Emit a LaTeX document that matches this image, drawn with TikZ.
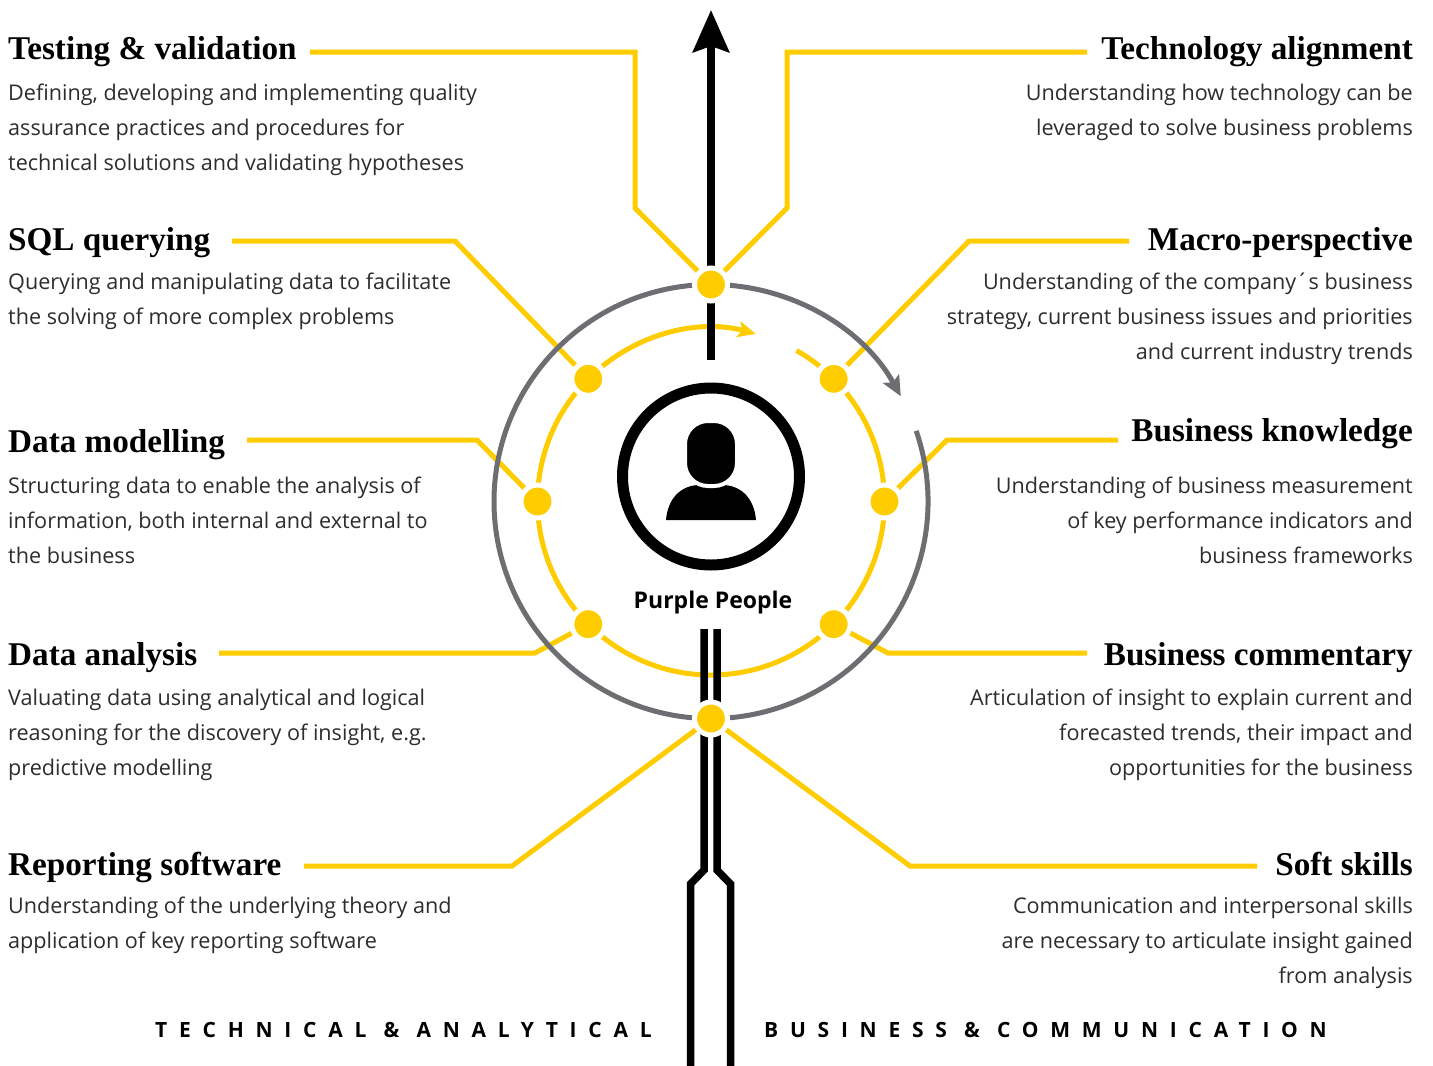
\documentclass[tikz,border=0pt]{standalone}
\usepackage{fontspec}
\setmainfont{Open Sans}
\newfontfamily\ttlfont{Liberation Serif}
\newfontfamily\spacedfont{Open Sans}[LetterSpace=56]
\usetikzlibrary{arrows.meta}
\definecolor{yel}{RGB}{255,204,0}
\definecolor{gry}{RGB}{109,110,113}
\definecolor{txt}{RGB}{45,45,45}
\newcommand\Lblock[1]{\vtop{\baselineskip=35pt\halign{##\hfil\cr#1\crcr}}}
\newcommand\Rblock[1]{\vtop{\baselineskip=35pt\halign{\hfil##\cr#1\crcr}}}
\begin{document}
\begin{tikzpicture}[x=1pt,y=-1pt,
  ttl/.style={font=\ttlfont\bfseries\fontsize{33.2}{38}\selectfont, inner sep=0pt, text=black},
  lttl/.style={ttl, anchor=base west},
  rttl/.style={ttl, anchor=base east},
  bodytext/.style={font=\fontsize{21.6}{35}\selectfont, inner sep=0pt, text=txt},
  lbody/.style={bodytext, anchor=base west},
  rbody/.style={bodytext, anchor=base east},
  conn/.style={draw=yel, line width=5pt, line join=miter},
  dot/.style={circle, fill=yel, draw=white, line width=5pt, minimum size=33pt, inner sep=0pt},
  blk/.style={draw=black, line width=7.5pt, line join=miter},
  side/.style={font=\spacedfont\bfseries\fontsize{21}{24}\selectfont, inner sep=0pt, text=black, anchor=base west}
]
\useasboundingbox (0,0) rectangle (1433,1066);
\fill[white] (0,0) rectangle (1433,1066);

% centre and dot positions
\coordinate (C) at (711,501.5);
\coordinate (pTop) at (711,284.5);
\coordinate (pBot) at (711,718.5);
\coordinate (pUL) at ([shift={(135:173.5pt)}]C);
\coordinate (pUR) at ([shift={(45:173.5pt)}]C);
\coordinate (pL) at ([shift={(180:173.5pt)}]C);
\coordinate (pR) at ([shift={(0:173.5pt)}]C);
\coordinate (pLL) at ([shift={(-135:173.5pt)}]C);
\coordinate (pLR) at ([shift={(-45:173.5pt)}]C);

% connector ends
\coordinate (eTest) at (310,52);
\coordinate (eTech) at (1087,52);
\coordinate (eSQL) at (232,241);
\coordinate (eMacro) at (1129,241);
\coordinate (eModel) at (247,440);
\coordinate (eKnow) at (1118,440);
\coordinate (eAna) at (219,653);
\coordinate (eComm) at (1087,653);
\coordinate (eRep) at (304,866);
\coordinate (eSoft) at (1257,866);

% yellow connectors
\draw[conn] (pTop) -- (635,208) -- (635,52) -- (eTest);
\draw[conn] (pTop) -- (787,208) -- (787,52) -- (eTech);
\draw[conn] (pUL) -- (455,241) -- (eSQL);
\draw[conn] (pUR) -- (969,241) -- (eMacro);
\draw[conn] (pL) -- (477,440) -- (eModel);
\draw[conn] (pR) -- (947,440) -- (eKnow);
\draw[conn] (pLL) -- (535,653) -- (eAna);
\draw[conn] (pLR) -- (888,653) -- (eComm);
\draw[conn] (pBot) -- (512,866) -- (eRep);
\draw[conn] (pBot) -- (910,866) -- (eSoft);

% grey outer circle with arrow
\draw[draw=gry, line width=5pt, -{Stealth[length=20pt,width=18pt,inset=4pt]}]
  ([shift={(90:217pt)}]C) arc[start angle=90, end angle=29, radius=217pt];
\draw[draw=gry, line width=5pt]
  ([shift={(19:217pt)}]C) arc[start angle=19, end angle=-270, radius=217pt];

% yellow inner circle with arrow
\draw[draw=yel, line width=5pt, -{Stealth[length=18pt,width=16pt,inset=4pt]}]
  ([shift={(135:173.5pt)}]C) arc[start angle=135, end angle=75, radius=173.5pt];
\draw[draw=yel, line width=5pt]
  ([shift={(60.5:173.5pt)}]C) arc[start angle=60.5, end angle=-225, radius=173.5pt];

% black top arrow
\coordinate (topStart) at (711,360);
\coordinate (topTip) at (711,10);
\draw[draw=black, line width=8pt, -{Stealth[length=42pt,width=36pt,inset=6pt]}] (topStart) -- (topTip);

% black double lines at the bottom
\coordinate (lA) at (704,629);
\coordinate (lB) at (690.5,1066);
\coordinate (rA) at (717,629);
\coordinate (rB) at (730.5,1066);
\draw[blk] (lA) -- (704,870) -- (690.5,884) -- (lB);
\draw[blk] (rA) -- (717,870) -- (730.5,884) -- (rB);

% dots
\node[dot] (dTop) at (pTop) {};
\node[dot] (dBot) at (pBot) {};
\node[dot] (dUL) at (pUL) {};
\node[dot] (dUR) at (pUR) {};
\node[dot] (dL) at (pL) {};
\node[dot] (dR) at (pR) {};
\node[dot] (dLL) at (pLL) {};
\node[dot] (dLR) at (pLR) {};

% central ring and person
\node[circle, draw=black, line width=11pt, minimum size=177pt, inner sep=0pt] (ring) at (711,476.5) {};
\fill[black] (666,520) .. controls (668,497) and (682,485) .. (700,485) -- (722,485) .. controls (740,485) and (754,497) .. (756,520) -- cycle;
\draw[fill=black, draw=white, line width=4pt, rounded corners=23pt] (685,421) rectangle (737,486);
\node[font=\bfseries\fontsize{23}{26}\selectfont, inner sep=0pt, anchor=base] (pp) at (713,608) {Purple People};

% titles
\node[lttl] (tTest) at (8,59) {Testing \& validation};
\node[rttl] (tTech) at (1413,59) {Technology alignment};
\node[lttl] (tSQL) at (8,250) {SQL querying};
\node[rttl] (tMacro) at (1413,250) {Macro-perspective};
\node[lttl] (tModel) at (8,452) {Data modelling};
\node[rttl] (tKnow) at (1413,441) {Business knowledge};
\node[lttl] (tAna) at (8,665) {Data analysis};
\node[rttl] (tComm) at (1413,665) {Business commentary};
\node[lttl] (tRep) at (8,875) {Reporting software};
\node[rttl] (tSoft) at (1413,875) {Soft skills};

% body texts
\node[lbody] (bTest) at (8,100) {\Lblock{Defining, developing and implementing quality\cr assurance practices and procedures for\cr technical solutions and validating hypotheses}};
\node[rbody] (bTech) at (1413,100) {\Rblock{Understanding how technology can be\cr leveraged to solve business problems}};
\node[lbody] (bSQL) at (8,289) {\Lblock{Querying and manipulating data to facilitate\cr the solving of more complex problems}};
\node[rbody] (bMacro) at (1413,289) {\Rblock{Understanding of the company´s business\cr strategy, current business issues and priorities\cr and current industry trends}};
\node[lbody] (bModel) at (8,493) {\Lblock{Structuring data to enable the analysis of\cr information, both internal and external to\cr the business}};
\node[rbody] (bKnow) at (1413,493) {\Rblock{Understanding of business measurement\cr of key performance indicators and\cr business frameworks}};
\node[lbody] (bAna) at (8,705) {\Lblock{Valuating data using analytical and logical\cr reasoning for the discovery of insight, e.g.\cr predictive modelling}};
\node[rbody] (bComm) at (1413,705) {\Rblock{Articulation of insight to explain current and\cr forecasted trends, their impact and\cr opportunities for the business}};
\node[lbody] (bRep) at (8,913) {\Lblock{Understanding of the underlying theory and\cr application of key reporting software}};
\node[rbody] (bSoft) at (1413,913) {\Rblock{Communication and interpersonal skills\cr are necessary to articulate insight gained\cr from analysis}};

% side labels
\node[side] (sTech) at (155,1037) {TECHNICAL \& ANALYTICAL};
\node[side] (sBus) at (764,1037) {BUSINESS \& COMMUNICATION};
\end{tikzpicture}
\end{document}
